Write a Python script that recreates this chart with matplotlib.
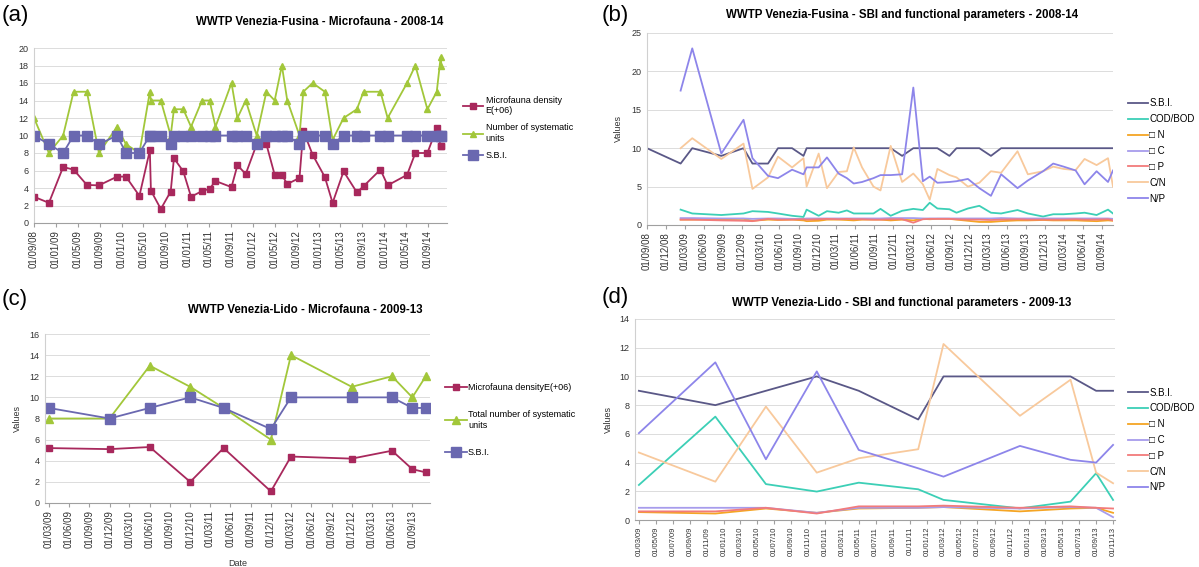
import matplotlib
matplotlib.use('Agg')
import matplotlib.pyplot as plt
import matplotlib.dates as mdates
import numpy as np
import pandas as pd

plt.rcParams['font.family'] = ['Liberation Sans', 'DejaVu Sans']

nan = np.nan

# (a) Venezia-Fusina - microfauna
fus_dates = ['2008-09-01', '2008-11-23', '2009-02-10', '2009-04-09', '2009-06-22', '2009-08-28',
             '2009-12-07', '2010-01-25', '2010-04-10', '2010-06-07', '2010-06-13', '2010-08-07',
             '2010-10-01', '2010-10-19', '2010-12-10', '2011-01-22', '2011-03-24', '2011-05-05',
             '2011-06-07', '2011-09-04', '2011-10-07', '2011-11-22', '2012-01-22', '2012-03-16',
             '2012-05-01', '2012-06-10', '2012-07-10', '2012-09-16', '2012-10-07', '2012-11-28',
             '2013-02-04', '2013-03-19', '2013-05-19', '2013-08-01', '2013-09-07', '2013-12-10',
             '2014-01-19', '2014-05-07', '2014-06-22', '2014-08-28', '2014-10-19', '2014-11-10',
             '2014-11-14']
fus_density = [3.0, 2.3, 6.4, 6.1, 4.35, 4.3, 5.3, 5.3, 3.1, 8.3, 3.7, 1.6, 3.6, 7.4, 5.9,
               3.0, 3.65, 3.9, 4.8, 4.1, 6.6, 5.6, 9.0, 9.0, 5.5, 5.5, 4.45, 5.15, 10.55, 7.8,
               5.25, 2.3, 5.9, 3.5, 4.2, 6.1, 4.3, 5.5, 8.0, 8.0, 10.85, 8.75, 8.75]
fus_units = [12, 8, 10, 15, 15, 8, 11, 9, 8, 15, 14, 14, 10, 13, 13, 11, 14, 14, 11, 16, 12,
             14, 10, 15, 14, 18, 14, 10, 15, 16, 15, 9.5, 12, 13, 15, 15, 12, 16, 18, 13, 15,
             19, 18]
fus_sbi = [10, 9, 8, 10, 10, 9, 10, 8, 8, 10, 10, 10, 9, 10, 10, 10, 10, 10, 10, 10, 10, 10,
           9, 10, 10, 10, 10, 9, 10, 10, 10, 9, 10, 10, 10, 10, 10, 10, 10, 10, 10, 10, 10]

# (b) Venezia-Fusina - SBI and functional parameters
fp_dates = ['2008-09-01', '2009-02-10', '2009-04-07', '2009-08-25', '2009-12-10', '2010-01-22',
            '2010-04-07', '2010-05-25', '2010-08-01', '2010-09-25', '2010-10-10', '2010-12-07',
            '2011-01-16', '2011-03-13', '2011-04-22', '2011-05-25', '2011-07-04', '2011-08-28',
            '2011-10-01', '2011-11-19', '2012-01-13', '2012-03-07', '2012-04-22', '2012-05-25',
            '2012-07-01', '2012-08-28', '2012-10-01', '2012-11-25', '2013-01-19', '2013-03-16',
            '2013-05-04', '2013-07-22', '2013-09-10', '2013-11-22', '2014-01-10', '2014-03-01',
            '2014-04-28', '2014-06-10', '2014-08-07', '2014-10-01', '2014-10-25']
fp_sbi = [10, 8, 10, 9, 10, 8, 8, 10, 10, 9, 10, 10, 10, 10, 10, 10, 10, 10, 10, 10, 9, 10,
          10, 10, 10, 9, 10, 10, 10, 9, 10, 10, 10, 10, 10, 10, 10, 10, 10, 10, 10]
fp_cod = [nan, 2.0, 1.5, 1.3, 1.5, 1.8, 1.7, 1.5, 1.2, 1.05, 2.0, 1.2, 1.8, 1.6, 1.9, 1.5,
          1.5, 1.5, 2.1, 1.2, 1.85, 2.1, 1.95, 2.9, 2.15, 2.05, 1.6, 2.15, 2.5, 1.6, 1.5,
          1.95, 1.5, 1.1, 1.4, 1.4, 1.5, 1.6, 1.3, 2.0, 1.5]
fp_dn = [nan, 0.7, 0.7, 0.75, 0.8, 0.55, 0.7, 0.65, 0.7, 0.6, 0.5, 0.55, 0.7, 0.7, 0.65, 0.6,
         0.7, 0.7, 0.7, 0.6, 0.7, 0.6, 0.8, 0.75, 0.8, 0.8, 0.7, 0.55, 0.4, 0.4, 0.5, 0.6,
         0.6, 0.65, 0.6, 0.6, 0.6, 0.55, 0.5, 0.6, 0.55]
fp_dc = [nan, 0.9, 0.9, 0.85, 0.85, 0.8, 0.85, 0.85, 0.8, 0.8, 0.85, 0.85, 0.85, 0.85, 0.85,
         0.85, 0.85, 0.85, 0.85, 0.9, 0.9, 0.9, 0.85, 0.85, 0.85, 0.85, 0.85, 0.85, 0.85,
         0.85, 0.9, 0.85, 0.85, 0.85, 0.85, 0.85, 0.85, 0.85, 0.85, 0.85, 0.8]
fp_dp = [nan, 0.7, 0.7, 0.6, 0.55, 0.5, 0.8, 0.7, 0.7, 0.75, 0.7, 0.75, 0.8, 0.75, 0.8, 0.75,
         0.75, 0.7, 0.7, 0.75, 0.75, 0.3, 0.75, 0.8, 0.8, 0.8, 0.75, 0.7, 0.7, 0.65, 0.7,
         0.75, 0.7, 0.7, 0.7, 0.7, 0.75, 0.7, 0.7, 0.75, 0.6]
fp_cn = [nan, 10.0, 11.3, 8.6, 10.6, 4.7, 6.2, 8.9, 7.5, 8.7, 5.0, 9.3, 4.8, 6.9, 7.0, 10.1,
         7.5, 5.0, 4.5, 10.3, 5.6, 6.7, 5.3, 3.3, 7.3, 6.5, 6.2, 5.0, 5.5, 7.0, 6.8, 9.6, 6.6,
         7.0, 7.6, 7.3, 7.15, 8.6, 7.8, 8.7, 5.0]
fp_np = [nan, 17.5, 23.0, 9.3, 13.7, 8.7, 6.4, 6.1, 7.2, 6.6, 7.5, 7.5, 8.8, 6.7, 6.1, 5.4,
         5.6, 6.1, 6.5, 6.5, 6.6, 17.9, 5.7, 6.3, 5.5, 5.6, 5.7, 6.0, 4.8, 3.8, 6.6, 4.8, 5.8,
         7.0, 8.0, 7.6, 7.1, 5.3, 7.0, 5.6, 7.1]

# (c) and (d) Venezia-Lido
lido_dates = ['2009-03-01', '2009-12-01', '2010-06-01', '2010-12-01', '2011-05-01', '2011-12-01',
              '2012-03-01', '2012-12-01', '2013-06-01', '2013-09-01', '2013-11-01']
lido_density = [5.2, 5.1, 5.3, 2.0, 5.2, 1.1, 4.4, 4.2, 4.95, 3.2, 2.9]
lido_units = [8, 8, 13, 11, 9, 6, 14, 11, 12, 10, 12]
lido_sbi = [9, 8, 9, 10, 9, 7, 10, 10, 10, 9, 9]
lido_cod = [2.44, 7.2, 2.5, 1.98, 2.6, 2.14, 1.4, 0.81, 1.28, 3.26, 1.4]
lido_dn = [0.55, 0.45, 0.8, 0.5, 0.8, 0.85, 0.9, 0.6, 0.8, 0.85, 0.5]
lido_dc = [0.85, 0.85, 0.85, 0.5, 0.85, 0.85, 0.9, 0.8, 0.9, 0.85, 0.2]
lido_dp = [0.6, 0.6, 0.85, 0.45, 0.95, 0.95, 1.0, 0.85, 0.95, 0.85, 0.8]
lido_cn = [4.7, 2.67, 7.9, 3.3, 4.3, 4.93, 12.26, 7.26, 9.77, 3.3, 2.56]
lido_np = [6.05, 10.98, 4.23, 10.35, 4.88, 3.6, 3.02, 5.16, 4.19, 4.0, 5.23]

c_density = '#a8285c'
c_units = '#a2c73a'
c_sbi_m = '#6a68b0'
par_labels = ['S.B.I.', 'COD/BOD', '\u25a1 N', '\u25a1 C', '\u25a1 P', 'C/N', 'N/P']
par_colors = ['#5a5887', '#3ccfb6', '#f5a524', '#a79cec', '#f27b7b', '#f8c99c', '#8d85ea']

W, H = 1199, 567
fig = plt.figure(figsize=(W / 100, H / 100), dpi=100)


def box(l, t, r, b):
    return [l / W, 1 - b / H, (r - l) / W, (b - t) / H]


def style(ax, ymax, ystep, months, xlim, xsize=7):
    ax.set_ylim(0, ymax)
    ax.set_yticks(np.arange(0, ymax + 0.1, ystep))
    ax.set_xlim(pd.to_datetime(xlim[0]), pd.to_datetime(xlim[1]))
    ax.xaxis.set_major_locator(mdates.MonthLocator(bymonth=months))
    ax.xaxis.set_major_formatter(mdates.DateFormatter('%d/%m/%y'))
    ax.grid(axis='y', color='#dcdcdc', lw=0.7)
    ax.set_axisbelow(True)
    for s in ['top', 'right']:
        ax.spines[s].set_visible(False)
    ax.spines['left'].set_color('#d0d0d0')
    ax.spines['bottom'].set_color('#a0a0a0')
    ax.tick_params(axis='x', labelrotation=90, labelsize=xsize, length=3, color='#a0a0a0',
                   labelcolor='#333333', pad=2)
    ax.tick_params(axis='y', labelsize=6.5, length=0, labelcolor='#333333', pad=4)


def side_legend(ax, x, y, size, spacing, hlen=2.2, pad=0.3):
    ax.legend(loc='center left', bbox_to_anchor=(x / W, 1 - y / H), bbox_transform=fig.transFigure,
              frameon=False, fontsize=size, handlelength=hlen, labelspacing=spacing,
              borderaxespad=0, borderpad=0, handletextpad=pad)


# panel (a)
ax = fig.add_axes(box(34, 48, 447, 223))
d = pd.to_datetime(fus_dates)
ax.plot(d, fus_density, color=c_density, marker='s', ms=4, lw=1.3,
        label='Microfauna density\nE(+06)')
ax.plot(d, fus_units, color=c_units, marker='^', ms=5, lw=1.3,
        label='Number of systematic\nunits')
ax.plot(d, fus_sbi, color=c_sbi_m, marker='s', ms=7, lw=1.3, label='S.B.I.')
style(ax, 20, 2, [1, 5, 9], ('2008-09-01', '2014-12-15'))
side_legend(ax, 463, 128, 6.5, 0.9)
fig.text(320 / W, 1 - 22 / H, 'WWTP Venezia-Fusina - Microfauna - 2008-14', ha='center',
         va='center', fontsize=8.3, fontweight='bold')
fig.text(2 / W, 1 - 16 / H, '(a)', fontsize=16, va='center')

# panel (b)
ax = fig.add_axes(box(647, 33, 1113, 225))
d = pd.to_datetime(fp_dates)
for vals, lab, col in zip([fp_sbi, fp_cod, fp_dn, fp_dc, fp_dp, fp_cn, fp_np], par_labels, par_colors):
    ax.plot(d, vals, color=col, lw=1.3, label=lab)
style(ax, 25, 5, [3, 6, 9, 12], ('2008-09-01', '2014-10-25'))
ax.set_ylabel('Values', fontsize=6.5, color='#333333', labelpad=6)
side_legend(ax, 1128, 151, 7, 0.6, hlen=2.05, pad=0.15)
fig.text(902 / W, 1 - 15 / H, 'WWTP Venezia-Fusina - SBI and functional parameters - 2008-14',
         ha='center', va='center', fontsize=8.3, fontweight='bold')
fig.text(602 / W, 1 - 16 / H, '(b)', fontsize=16, va='center')

# panel (c)
ax = fig.add_axes(box(45, 334, 430, 503))
d = pd.to_datetime(lido_dates)
ax.plot(d, lido_density, color=c_density, marker='s', ms=4.5, lw=1.3,
        label='Microfauna densityE(+06)')
ax.plot(d, lido_units, color=c_units, marker='^', ms=5.5, lw=1.3,
        label='Total number of systematic\nunits')
ax.plot(d, lido_sbi, color=c_sbi_m, marker='s', ms=7.5, lw=1.3, label='S.B.I.')
style(ax, 16, 2, [3, 6, 9, 12], ('2009-02-12', '2013-11-20'))
ax.set_ylabel('Values', fontsize=6.5, color='#333333', labelpad=5)
ax.set_xlabel('Date', fontsize=6.5, color='#333333', labelpad=8)
side_legend(ax, 445, 420, 6.5, 2.0, hlen=2.4, pad=0.15)
fig.text(305 / W, 1 - 310 / H, 'WWTP Venezia-Lido - Microfauna - 2009-13', ha='center',
         va='center', fontsize=8.3, fontweight='bold')
fig.text(2 / W, 1 - 299 / H, '(c)', fontsize=16, va='center')

# panel (d)
ax = fig.add_axes(box(635, 319, 1115, 520))
for vals, lab, col in zip([lido_sbi, lido_cod, lido_dn, lido_dc, lido_dp, lido_cn, lido_np],
                          par_labels, par_colors):
    ax.plot(d, vals, color=col, lw=1.3, label=lab)
style(ax, 14, 2, [1, 3, 5, 7, 9, 11], ('2009-02-15', '2013-11-08'), xsize=5.5)
ax.set_ylabel('Values', fontsize=6.5, color='#333333', labelpad=5)
side_legend(ax, 1128, 440, 7, 0.6, hlen=2.05, pad=0.15)
fig.text(902 / W, 1 - 303 / H, 'WWTP Venezia-Lido - SBI and functional parameters - 2009-13',
         ha='center', va='center', fontsize=8.3, fontweight='bold')
fig.text(602 / W, 1 - 298 / H, '(d)', fontsize=16, va='center')

fig.savefig('out.png', dpi=100)
